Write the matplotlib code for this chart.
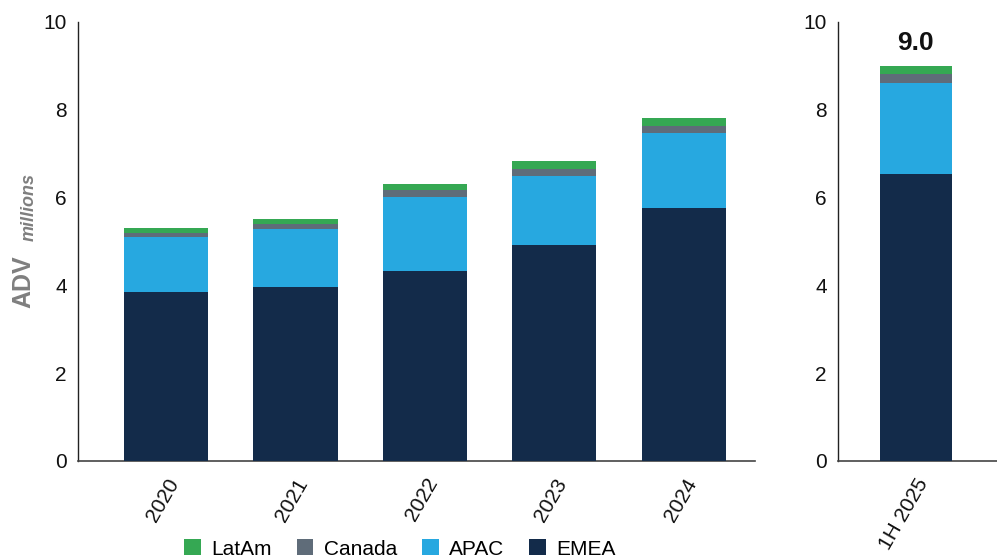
import matplotlib
matplotlib.use("Agg")
import matplotlib.pyplot as plt
import numpy as np

plt.rcParams['font.family'] = ['Liberation Sans', 'DejaVu Sans']

years = ["2020", "2021", "2022", "2023", "2024"]
emea = [3.85, 3.97, 4.33, 4.91, 5.77]
apac = [1.26, 1.31, 1.68, 1.59, 1.70]
canada = [0.08, 0.12, 0.16, 0.15, 0.16]
latam = [0.11, 0.12, 0.15, 0.18, 0.18]

half_label = ["1H 2025"]
half_emea = [6.54]
half_apac = [2.06]
half_canada = [0.21]
half_latam = [0.19]
half_total_label = "9.0"

yticks = [0, 2, 4, 6, 8, 10]

colors = {
    "EMEA": "#132b4a",
    "APAC": "#27a8e0",
    "Canada": "#5f6c79",
    "LatAm": "#35a853",
}

fig = plt.figure(figsize=(9.97, 5.6), dpi=100)
ax1 = fig.add_axes([78 / 997, 1 - 461 / 560, (755 - 78) / 997, (461 - 22) / 560])
ax2 = fig.add_axes([838 / 997, 1 - 461 / 560, (997 - 838) / 997, (461 - 22) / 560])


def draw_stack(ax, labels, series, width):
    x = np.arange(len(labels))
    bottom = np.zeros(len(labels))
    for name, vals in series:
        vals = np.asarray(vals, dtype=float)
        ax.bar(x, vals, width, bottom=bottom, color=colors[name], label=name,
               edgecolor="none", zorder=3)
        bottom += vals
    return x, bottom


series_main = [("EMEA", emea), ("APAC", apac), ("Canada", canada), ("LatAm", latam)]
series_half = [("EMEA", half_emea), ("APAC", half_apac), ("Canada", half_canada),
               ("LatAm", half_latam)]

x1, tot1 = draw_stack(ax1, years, series_main, 0.65)
x2, tot2 = draw_stack(ax2, half_label, series_half, 0.65)

ax1.set_xlim(-0.68, 4.55)
ax2.set_xlim(-0.70, 0.73)

for ax, labels, x in ((ax1, years, x1), (ax2, half_label, x2)):
    ax.set_ylim(0, 10)
    ax.set_yticks(yticks)
    ax.set_yticklabels([str(t) for t in yticks], fontsize=15, color="#111111")
    ax.set_xticks(x)
    ax.set_xticklabels(labels, rotation=60, ha="right", va="top",
                       rotation_mode="anchor", fontsize=15, color="#111111")
    for s in ("top", "right"):
        ax.spines[s].set_visible(False)
    ax.spines["left"].set_color("#222222")
    ax.spines["left"].set_linewidth(1.0)
    ax.spines["bottom"].set_color("#444444")
    ax.spines["bottom"].set_linewidth(1.2)
    ax.tick_params(axis="y", length=0, pad=8)
    ax.tick_params(axis="x", length=0, pad=10)

ax2.text(x2[0], tot2[0] + 0.25, half_total_label, ha="center", va="bottom",
         fontsize=19, fontweight="bold", color="#111111")

# y-axis title: bold "ADV" followed by italic "millions"
fig.text(23 / 997, 1 - 282 / 560, "ADV", rotation=90, ha="center", va="center",
         fontsize=18, fontweight="bold", color="#7f7f7f")
fig.text(29 / 997, 1 - 207 / 560, "millions", rotation=90, ha="center", va="center",
         fontsize=13, fontweight="bold", fontstyle="italic", color="#7f7f7f")

handles, labels = ax1.get_legend_handles_labels()
order = [3, 2, 1, 0]
fig.legend([handles[i] for i in order], [labels[i] for i in order],
           loc="center", bbox_to_anchor=(400 / 997, 1 - 549 / 560), ncol=4,
           frameon=False, fontsize=15, handlelength=0.8, handleheight=0.8,
           handletextpad=0.5, columnspacing=1.2, borderpad=0)

fig.savefig("out.png", dpi=100)
